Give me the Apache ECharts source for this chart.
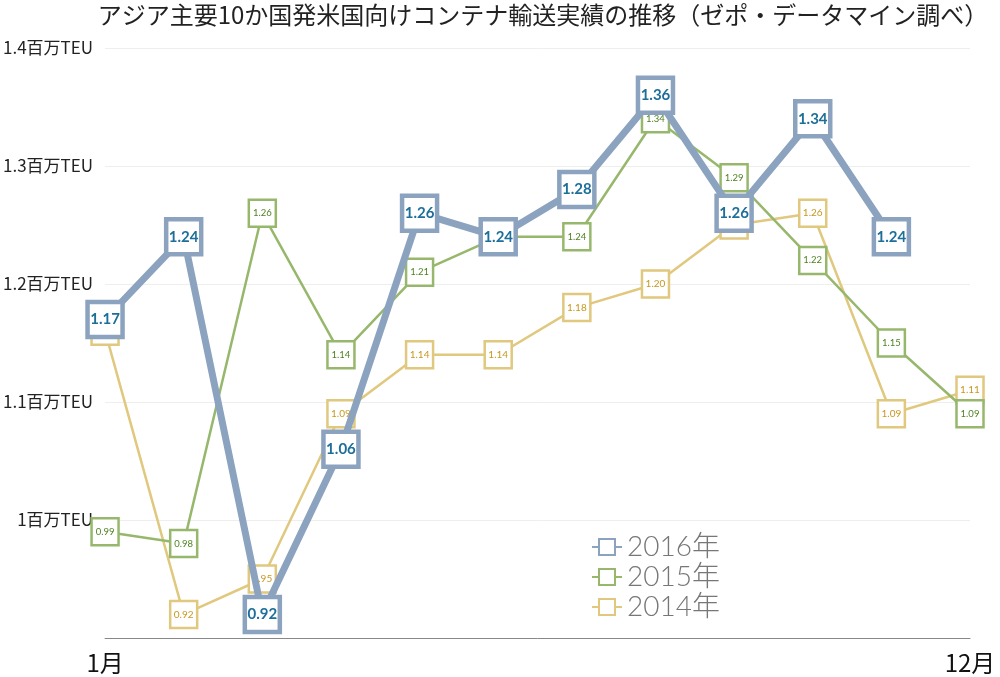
<!DOCTYPE html>
<html><head><meta charset="utf-8">
<script src="https://cdn.jsdelivr.net/npm/echarts@6/dist/echarts.min.js"></script>
<style>html,body{margin:0;padding:0;background:#fff}#c{width:1000px;height:677px}</style>
</head><body><div id="c"></div>
<script>
const months = ['1月','2月','3月','4月','5月','6月','7月','8月','9月','10月','11月','12月'];
const s2016 = [1.17, 1.24, 0.92, 1.06, 1.26, 1.24, 1.28, 1.36, 1.26, 1.34, 1.24, null];
const s2015 = [0.99, 0.98, 1.26, 1.14, 1.21, 1.24, 1.24, 1.34, 1.29, 1.22, 1.15, 1.09];
const s2014 = [1.16, 0.92, 0.95, 1.09, 1.14, 1.14, 1.18, 1.20, 1.25, 1.26, 1.09, 1.11];
const names = ['2016年','2015年','2014年'];
const yTicks = [0.9, 1.0, 1.1, 1.2, 1.3, 1.4];

const chart = echarts.init(document.getElementById('c'));
const cjk = '"Noto Sans CJK JP", sans-serif';
function lbl(v){ return v.value == null ? '' : v.value.toFixed(2); }
chart.setOption({
  animation:false,
  backgroundColor:'#fff',
  title:{
    text:'アジア主要10か国発米国向けコンテナ輸送実績の推移（ゼポ・データマイン調べ）',
    left:538, top:-2, textAlign:'center',
    textStyle:{fontFamily:cjk, fontSize:24, fontWeight:'normal', color:'#222'}
  },
  legend:{
    orient:'vertical', left:586, top:528, itemGap:2,
    itemWidth:30, itemHeight:20,
    data:names,
    textStyle:{fontFamily:'Lato, "Noto Sans CJK JP", sans-serif', fontWeight:300, fontSize:28, color:'#777'}
  },
  grid:{left:105, right:30, top:48, bottom:39},
  xAxis:{
    type:'category', data:months, boundaryGap:false,
    axisLine:{lineStyle:{color:'#888', width:1}},
    axisTick:{show:false},
    axisLabel:{
      interval:0, margin:13, fontFamily:cjk, fontSize:24, color:'#111',
      formatter:(v,i)=> (i===0||i===11)? v : ''
    },
    splitLine:{show:false}
  },
  yAxis:{
    type:'value', min:yTicks[0], max:yTicks[yTicks.length-1], interval:0.1,
    axisLine:{show:false}, axisTick:{show:false},
    axisLabel:{
      margin:12, fontFamily:cjk, fontSize:17, color:'#222',
      formatter:v=>{ if (Math.abs(v-0.9)<1e-6) return ''; if (Math.abs(v-1)<1e-6) return '1百万TEU'; return v.toFixed(1)+'百万TEU'; }
    },
    splitLine:{lineStyle:{color:'#eee', width:1}}
  },
  series:[
    {
      name:names[2], type:'line', data:s2014, z:2,
      symbol:'rect', symbolSize:27, showAllSymbol:true,
      lineStyle:{color:'#e0c87e', width:2.5},
      itemStyle:{color:'#fff', borderColor:'#e0c87e', borderWidth:2.5},
      label:{show:true, position:'inside', formatter:lbl, fontSize:10, color:'#c8971f', fontFamily:'Lato, sans-serif'}
    },
    {
      name:names[1], type:'line', data:s2015, z:3,
      symbol:'rect', symbolSize:27, showAllSymbol:true,
      lineStyle:{color:'#97b86c', width:2.5},
      itemStyle:{color:'#fff', borderColor:'#97b86c', borderWidth:2.5},
      label:{show:true, position:'inside', formatter:lbl, fontSize:9.5, color:'#4f8222', fontFamily:'Lato, sans-serif'}
    },
    {
      name:names[0], type:'line', data:s2016, z:4,
      symbol:'rect', symbolSize:35, showAllSymbol:true,
      lineStyle:{color:'#8ca3c0', width:7},
      itemStyle:{color:'#fff', borderColor:'#8ca3c0', borderWidth:4.5},
      label:{show:true, position:'inside', formatter:lbl, fontSize:15, fontWeight:'bold', color:'#1d6e99', fontFamily:'Lato, sans-serif'}
    }
  ]
});
</script></body></html>
